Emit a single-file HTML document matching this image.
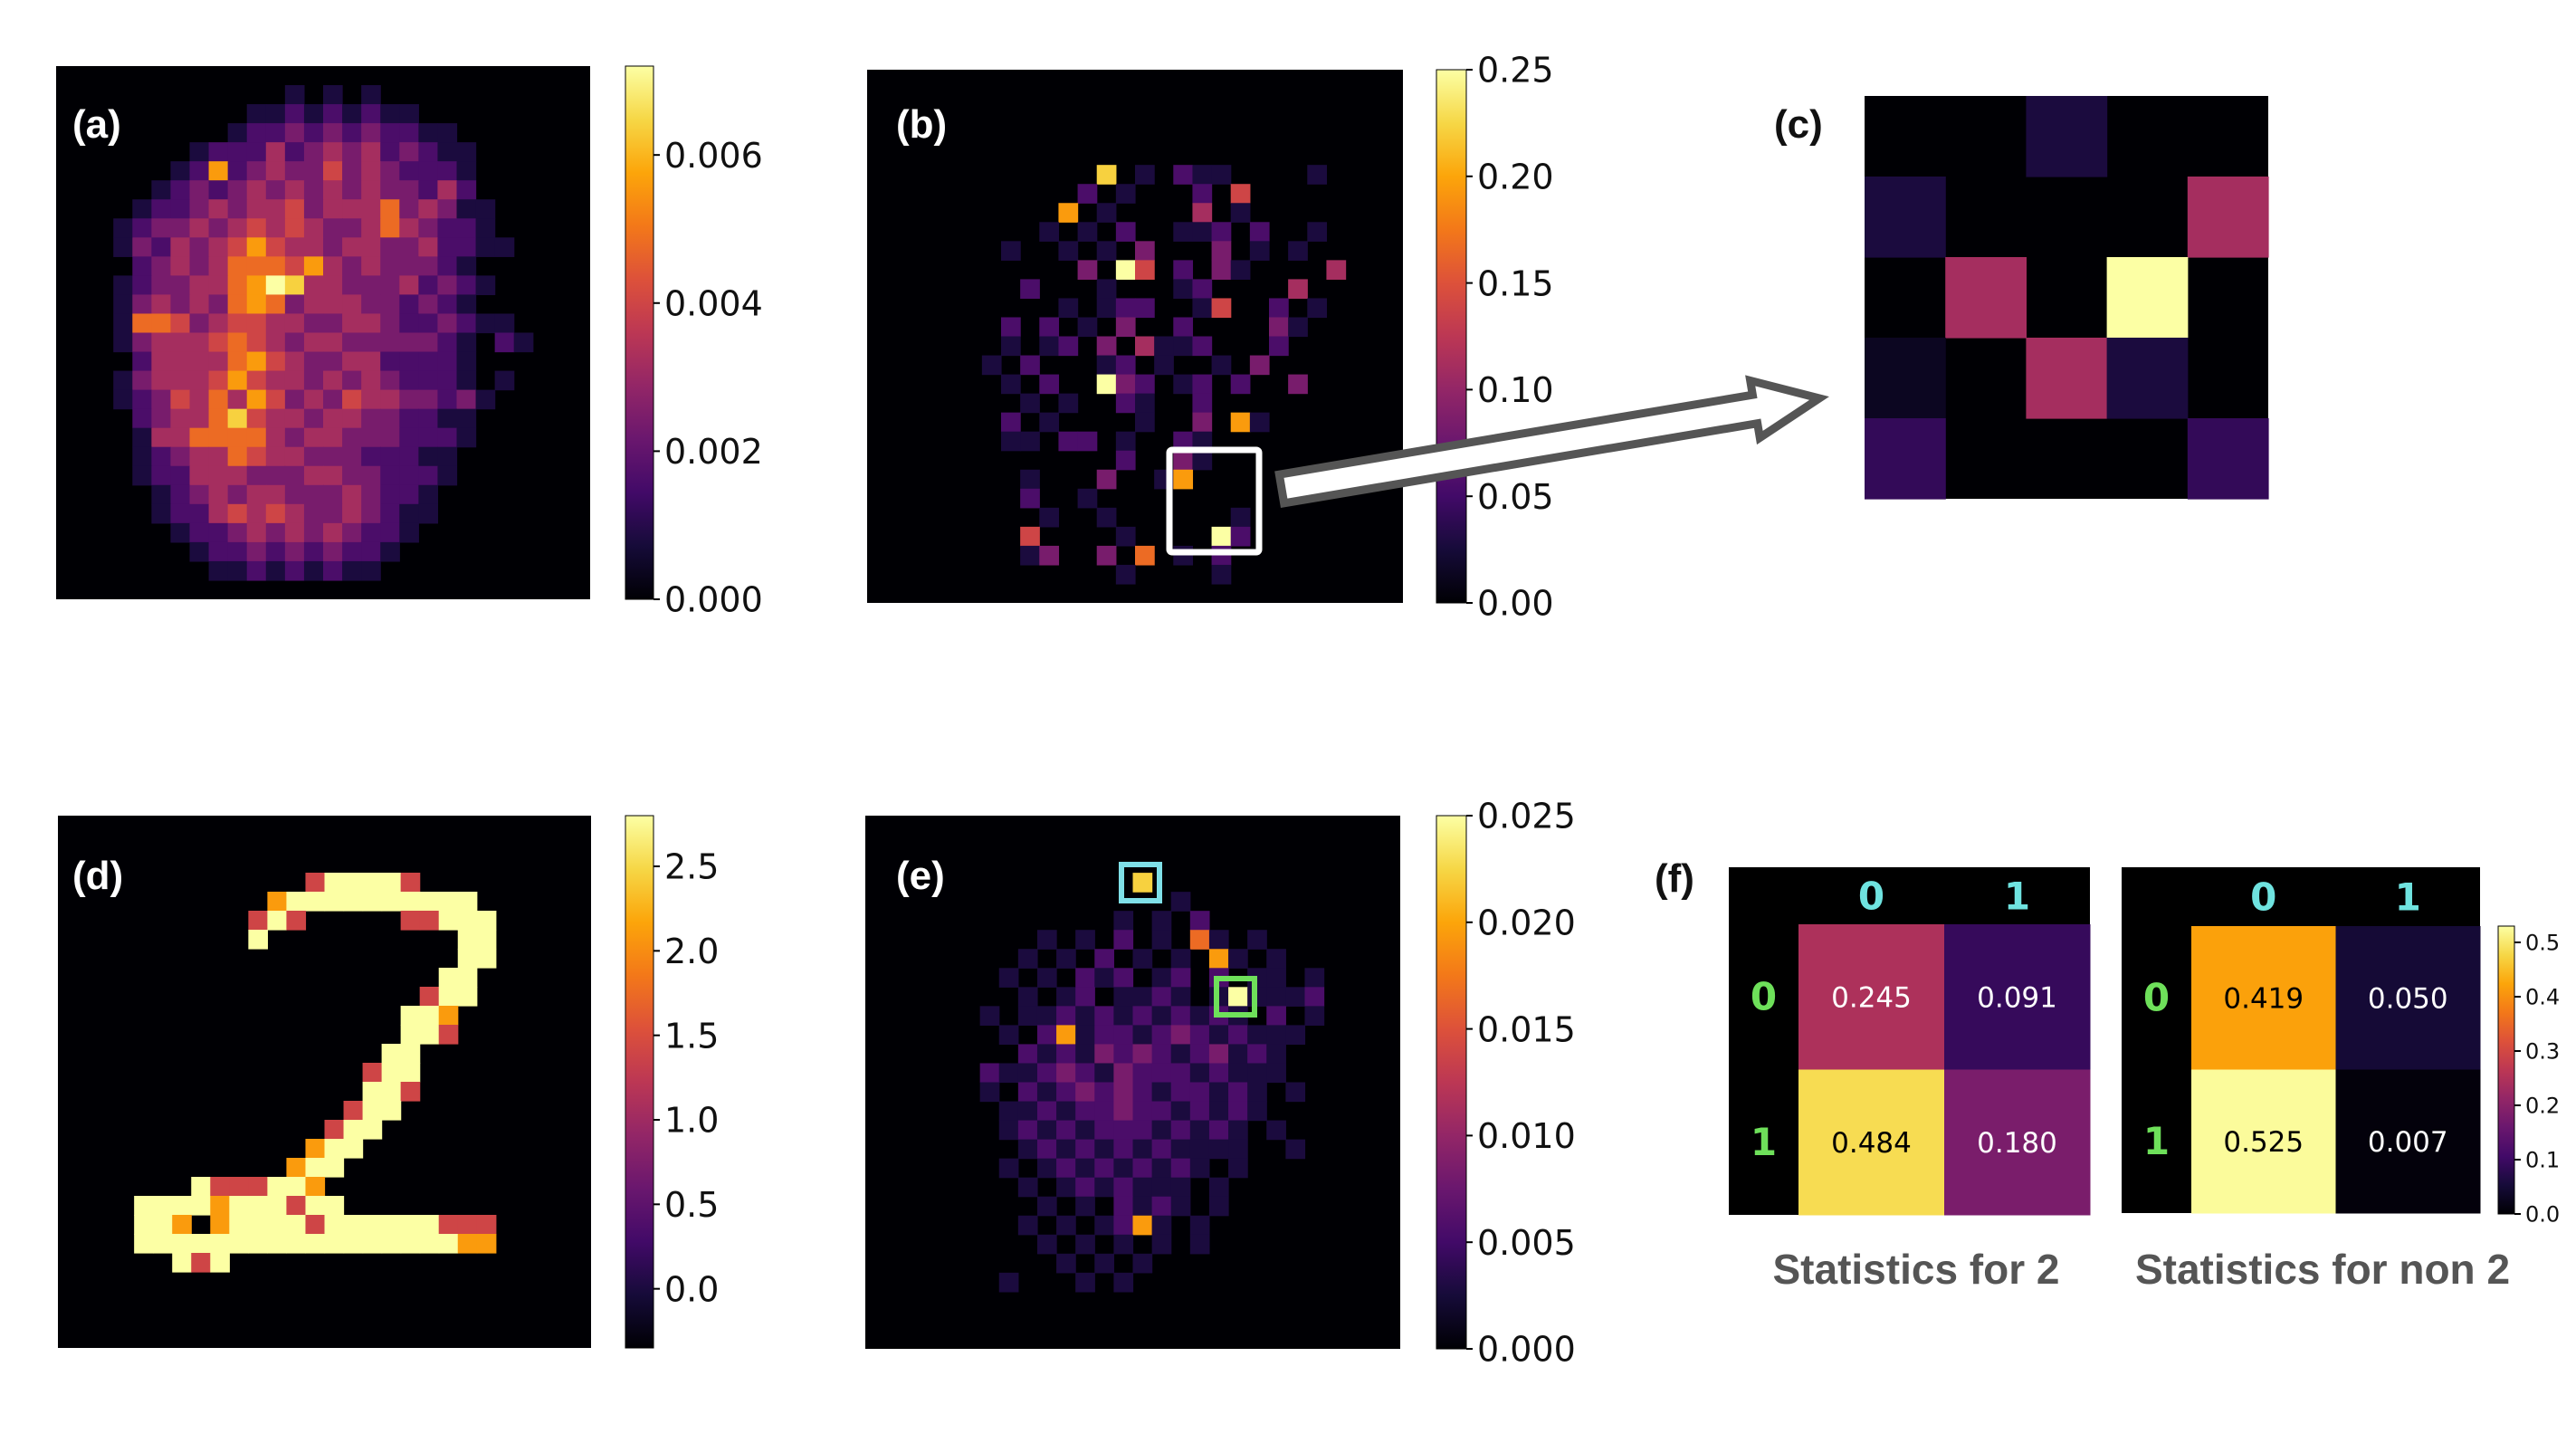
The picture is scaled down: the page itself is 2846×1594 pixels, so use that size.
<!DOCTYPE html>
<html><head><meta charset="utf-8"><style>
html,body{margin:0;padding:0;background:#fff;}
svg{display:block;font-family:"DejaVu Sans","Liberation Sans",sans-serif;}
</style></head><body>
<svg id="fig" width="2846" height="1594" viewBox="0 0 2846 1594" xmlns="http://www.w3.org/2000/svg"></svg>
<script>
// ---- data ----
const panelA = [
"0000000000000000000000000000","0000000000001010100000000000","0000000000112121211000000000",
"0000000001223232322110000000","0000000122242343423211000000","0000001272343353432221000000",
"0000012323434343433242000000","0000122343445344463431100000","0001233434545433464322100000",
"0001324345754434433422110000","0000234346665743433321000000","0001233446798443334232100000",
"0001343436763444332321000000","0001665345544334432232110000","0001344456543443333321021000",
"0000244446754334422221000000","0001344457544343432221010000","0001235464753435443323100000",
"0000234468544344332211000000","0000144666643443332221000000","0000123446544333222110000000",
"0000122444333443322210000000","0000012343443334322100000000","0000012245454334321100000000",
"0000001223434343221000000000","0000000122323232210000000000","0000000011212121100000000000",
"0000000000000000000000000000"];
const panelB = [
"0000000000000000000000000000","0000000000000000000000000000","0000000000000000000000000000",
"0000000000000000000000000000","0000000000000000000000000000","0000000000008010211000010000",
"0000000000020100020500000000","0000000000701000040100000000","0000000001010200112020010000",
"0000000100101030003010100000","0000000000030950203100004000","0000000020001000120000400000",
"0000000000101220015002010000","0000000202010300200003100000","0000000101203041120002000000",
"0000001020001201001030000000","0000000102009320120200300000","0000000010100210020000000000",
"0000000201000010030710000000","0000000110220100210000000000","0000000000000200310000000000",
"0000000010003001700000000000","0000000020010000000000000000","0000000001001000000100000000",
"0000000050000100009200000000","0000000013003060102000000000","0000000000000100001000000000",
"0000000000000000000000000000"];
const panelC = [[0,0,1,0,0],[1,0,0,0,4],[0,4,0,9,0],[0.5,0,4,1,0],[1.5,0,0,0,1.5]];
const panelD = [
"0000000000000000000000000000","0000000000000000000000000000","0000000000000000000000000000",
"0000000000000599995000000000","0000000000079999999999000000","0000000000595000005599900000",
"0000000000900000000009900000","0000000000000000000009900000","0000000000000000000099000000",
"0000000000000000000599000000","0000000000000000009970000000","0000000000000000009950000000",
"0000000000000000099000000000","0000000000000000599000000000","0000000000000000995000000000",
"0000000000000005990000000000","0000000000000059900000000000","0000000000000799000000000000",
"0000000000007990000000000000","0000000955599700000000000000","0000999979995990000000000000",
"0000997079999599999955500000","0000999999999999999997700000","0000009590000000000000000000",
"0000000000000000000000000000","0000000000000000000000000000","0000000000000000000000000000",
"0000000000000000000000000000"];
const panelE = [
"0000000000000000000000000000","0000000000000000000000000000","0000000000000000000000000000",
"0000000000000080000000000000","0000000000000000100000000000","0000000000000101020000000000",
"0000000001010201061010000000","0000000010102010107101000000","0000000101021201202011010000",
"0000000010120112101911120000","0000001011212121212102010000","0000000102712212321211100000",
"0000000021213232123121000000","0000002112321322212111000000","0000001021232321221210100000",
"0000000112122322121210000000","0000000121212221212101000000","0000000012121212111100100000",
"0000000101212121210100000000","0000000010121211101000000000","0000000001010212101000000000",
"0000000010101271010000000000","0000000001010101010000000000","0000000000101010000000000000",
"0000000100010100000000000000","0000000000000000000000000000","0000000000000000000000000000",
"0000000000000000000000000000"];
const stats2 = [[0.245,0.091],[0.484,0.180]];
const statsNon2 = [[0.419,0.050],[0.525,0.007]];
const ticksA = ["0.000","0.002","0.004","0.006"]; const tickValsA=[0,0.002,0.004,0.006];
const ticksB = ["0.00","0.05","0.10","0.15","0.20","0.25"]; const tickValsB=[0,0.05,0.1,0.15,0.2,0.25];
const ticksD = ["0.0","0.5","1.0","1.5","2.0","2.5"]; const tickValsD=[0,0.5,1,1.5,2,2.5];
const ticksE = ["0.000","0.005","0.010","0.015","0.020","0.025"]; const tickValsE=[0,0.005,0.01,0.015,0.02,0.025];
const ticksF = ["0.0","0.1","0.2","0.3","0.4","0.5"]; const tickValsF=[0,0.1,0.2,0.3,0.4,0.5];

// ---- helpers ----
const NS="http://www.w3.org/2000/svg";
const svg=document.getElementById('fig');
function mk(tag,attrs,parent){const e=document.createElementNS(NS,tag);for(const k in attrs)e.setAttribute(k,attrs[k]);(parent||svg).appendChild(e);return e;}
const stops=[[0,0,0,4],[0.1,22,11,57],[0.2,66,10,104],[0.3,106,23,110],[0.4,147,38,103],[0.5,188,55,84],[0.6,221,81,58],[0.7,243,120,25],[0.8,252,165,10],[0.9,246,215,70],[1,252,255,164]];
function inferno(t){t=Math.max(0,Math.min(1,t));for(let i=1;i<stops.length;i++){if(t<=stops[i][0]){const a=stops[i-1],b=stops[i],f=(t-a[0])/(b[0]-a[0]);return `rgb(${Math.round(a[1]+f*(b[1]-a[1]))},${Math.round(a[2]+f*(b[2]-a[2]))},${Math.round(a[3]+f*(b[3]-a[3]))})`;}}return 'rgb(252,255,164)';}
const defs=mk('defs',{});
const grad=mk('linearGradient',{id:'inf',x1:0,y1:1,x2:0,y2:0},defs);
stops.forEach(s=>mk('stop',{offset:s[0],'stop-color':`rgb(${s[1]},${s[2]},${s[3]})`},grad));

function heat(name,rows,x0,y0,w,h,n){
  const g=mk('g',{});
  
  
  const bg=mk('rect',{x:x0,y:y0,width:w,height:h,fill:'#000004'},g);
  
  
  const cw=w/n,ch=h/n;
  for(let r=0;r<n;r++){for(let c=0;c<n;c++){
    const v=typeof rows[r]==='string'?Number(rows[r][c]||0):rows[r][c];
    if(!v)continue;
    const cell=mk('rect',{x:x0+c*cw,y:y0+r*ch,width:cw+0.6,height:ch+0.6,fill:inferno(v/9)},g);
    
    
  }}
  return g;
}
function cbar(name,x,y,w,h,vmin,vmax,labels,vals,fs){
  const g=mk('g',{});
  
  
  mk('rect',{x:x,y:y,width:w,height:h,fill:'url(#inf)',stroke:'#000','stroke-width':1},g);
  vals.forEach((v,i)=>{
    const yy=y+h-(v-vmin)/(vmax-vmin)*h;
    mk('line',{x1:x+w,x2:x+w+7,y1:yy,y2:yy,stroke:'#000','stroke-width':2},g);
    const t=mk('text',{x:x+w+12,y:yy+fs*0.36,'font-size':fs,fill:'#111'},g);
    t.textContent=labels[i];
    
    
  });
}
function label(txt,x,y,color,size){
  const t=mk('text',{x:x,y:y,'font-size':size||44,'font-weight':'bold',fill:color,'font-family':'Liberation Sans, sans-serif'});
  t.textContent=txt;
  
  
}

// ---- panels ----
heat('heatmap-a',panelA,62,73,590,589,28); label('(a)',80,152,'#fff');
cbar('colorbar-a',691,73,31,589,0,0.0072,ticksA,tickValsA,38);

heat('heatmap-b',panelB,958,77,592,589,28); label('(b)',990,152,'#fff');
cbar('colorbar-b',1587,77,33,589,0,0.25,ticksB,tickValsB,38);
const box=mk('rect',{x:1292,y:497,width:99,height:113,fill:'none',stroke:'#fff','stroke-width':7,rx:3});
 

heat('heatmap-c',panelC,2060,106,446,445,5); label('(c)',1960,152,'#111');

// arrow
(function(){
  const x1=1416,y1=540,x2=2010,y2=440;
  const L=Math.hypot(x2-x1,y2-y1), ang=Math.atan2(y2-y1,x2-x1)*180/Math.PI;
  const bw=16,hw=32,hl=72;
  const pts=[[0,-bw],[L-hl,-bw],[L-hl,-hw],[L,0],[L-hl,hw],[L-hl,bw],[0,bw]].map(p=>p.join(',')).join(' ');
  const a=mk('polygon',{points:pts,fill:'#fff',stroke:'#555','stroke-width':9,'stroke-linejoin':'miter',transform:`translate(${x1},${y1}) rotate(${ang})`});
   
})();

heat('heatmap-d',panelD,64,901,589,588,28); label('(d)',80,982,'#fff');
cbar('colorbar-d',691,901,31,588,-0.35,2.8,ticksD,tickValsD,38);

heat('heatmap-e',panelE,956,901,591,589,28); label('(e)',990,982,'#fff');
cbar('colorbar-e',1587,901,33,589,0,0.025,ticksE,tickValsE,38);
const cb=mk('rect',{x:1239,y:955,width:42,height:40,fill:'none',stroke:'#7fe0e8','stroke-width':6});
 
const gb=mk('rect',{x:1344,y:1081,width:42,height:40,fill:'none',stroke:'#6ee05a','stroke-width':6});
 

// panel f
label('(f)',1828,985,'#111');
function matrix(name,data,x0,y0,w,h,lw,hh){
  const g=mk('g',{});
  
  
  mk('rect',{x:x0,y:y0,width:w,height:h,fill:'#000'},g);
  const cw=(w-lw)/2,ch=(h-hh)/2;
  for(let r=0;r<2;r++)for(let c=0;c<2;c++){
    const v=data[r][c];
    const cell=mk('rect',{x:x0+lw+c*cw,y:y0+hh+r*ch,width:cw+0.5,height:ch+0.5,fill:inferno(v/0.53)},g);
    
    
    const t=mk('text',{x:x0+lw+(c+0.5)*cw,y:y0+hh+(r+0.5)*ch+11,'font-size':31,'text-anchor':'middle',fill:v>0.3?'#000':'#fff'},g);
    t.textContent=v.toFixed(3);
    
    
  }
  for(let c=0;c<2;c++){const t=mk('text',{x:x0+lw+(c+0.5)*cw,y:y0+hh/2+15,'font-size':42,'font-weight':'bold','text-anchor':'middle',fill:'#6fe3e0'},g);t.textContent=String(c);
    }
  for(let r=0;r<2;r++){const t=mk('text',{x:x0+lw/2,y:y0+hh+(r+0.5)*ch+14,'font-size':42,'font-weight':'bold','text-anchor':'middle',fill:'#6ee05a'},g);t.textContent=String(r);
    }
}
matrix('matrix-stats-2',stats2,1910,958,399,384,77,63);
matrix('matrix-stats-non2',statsNon2,2344,958,396,382,77,65);
cbar('colorbar-f',2760,1023,18,318,0,0.53,ticksF,tickValsF,24);
function title(txt,x){const t=mk('text',{x:x,y:1418,'font-size':46,'font-weight':'bold','text-anchor':'middle',fill:'#555','font-family':'Liberation Sans, sans-serif'});t.textContent=txt;
  }
title('Statistics for 2',2117); title('Statistics for non 2',2566);
</script>
</body></html>
